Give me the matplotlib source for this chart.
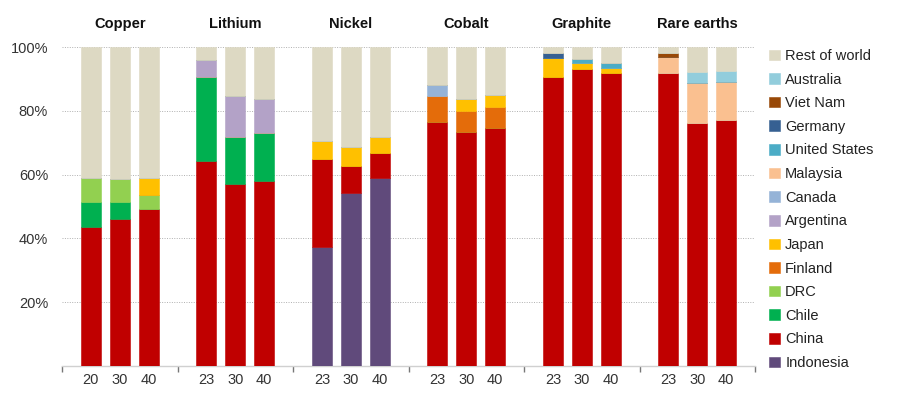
import numpy as np
import matplotlib.pyplot as plt

plt.rcParams['font.family'] = ['Liberation Sans', 'DejaVu Sans']

minerals = ["Copper", "Lithium", "Nickel", "Cobalt", "Graphite", "Rare earths"]
years = ["20", "30", "40", "23", "30", "40", "23", "30", "40",
         "23", "30", "40", "23", "30", "40", "23", "30", "40"]

# share of refining, % (bottom to top stacking order)
indonesia = [0, 0, 0, 0, 0, 0, 37.2, 54.1, 58.9, 0, 0, 0, 0, 0, 0, 0, 0, 0]
china = [43.6, 46.0, 49.1, 64.4, 56.9, 57.9, 27.8, 8.6, 7.8,
         76.4, 73.4, 74.7, 90.6, 93.1, 91.8, 92.0, 76.3, 77.2]
chile = [7.7, 5.5, 0, 26.2, 14.9, 15.1, 0, 0, 0, 0, 0, 0, 0, 0, 0, 0, 0, 0]
drc = [7.5, 7.0, 4.6, 0, 0, 0, 0, 0, 0, 0, 0, 0, 0, 0, 0, 0, 0, 0]
finland = [0, 0, 0, 0, 0, 0, 0, 0, 0, 8.3, 6.5, 6.4, 0, 0, 0, 0, 0, 0]
japan = [0, 0, 5.3, 0, 0, 0, 5.5, 6.1, 5.0, 0, 3.8, 3.7, 6.0, 1.8, 1.7, 0, 0, 0]
argentina = [0, 0, 0, 5.2, 12.8, 10.7, 0, 0, 0, 0, 0, 0, 0, 0, 0, 0, 0, 0]
canada = [0, 0, 0, 0, 0, 0, 0, 0, 0, 3.3, 0, 0, 0, 0, 0, 0, 0, 0]
malaysia = [0, 0, 0, 0, 0, 0, 0, 0, 0, 0, 0, 0, 0, 0, 0, 4.9, 12.3, 11.9]
united_states = [0, 0, 0, 0, 0, 0, 0, 0, 0, 0, 0, 0, 0, 1.2, 1.6, 0, 0, 0]
germany = [0, 0, 0, 0, 0, 0, 0, 0, 0, 0, 0, 0, 1.5, 0, 0, 0, 0, 0]
viet_nam = [0, 0, 0, 0, 0, 0, 0, 0, 0, 0, 0, 0, 0, 0, 0, 1.2, 0, 0]
australia = [0, 0, 0, 0, 0, 0, 0, 0, 0, 0, 0, 0, 0, 0, 0, 0, 3.5, 3.4]
rest_of_world = [41.2, 41.5, 41.0, 4.2, 15.4, 16.3, 29.5, 31.2, 28.3,
                 12.0, 16.3, 15.2, 1.9, 3.9, 4.9, 1.9, 7.9, 7.5]

series = [
    ("Indonesia", indonesia, "#604A7B"),
    ("China", china, "#C00000"),
    ("Chile", chile, "#00B050"),
    ("DRC", drc, "#92D050"),
    ("Finland", finland, "#E46C0A"),
    ("Japan", japan, "#FFC000"),
    ("Argentina", argentina, "#B3A2C7"),
    ("Canada", canada, "#95B3D7"),
    ("Malaysia", malaysia, "#FAC090"),
    ("United States", united_states, "#4BACC6"),
    ("Germany", germany, "#366092"),
    ("Viet Nam", viet_nam, "#984807"),
    ("Australia", australia, "#92CDDC"),
    ("Rest of world", rest_of_world, "#DDD9C3"),
]

fig = plt.figure(figsize=(9, 3.98), dpi=100)
ax = fig.add_axes([0.0689, 0.0804, 0.77, 0.8015])

# 3 bars per group, group width 4 units
x = np.array([g * 4 + 1 + i for g in range(len(minerals)) for i in range(3)], dtype=float)
bottom = np.zeros(len(x))
handles = []
for name, vals, col in series:
    v = np.array(vals)
    b = ax.bar(x, v, bottom=bottom, width=0.69, color=col, edgecolor=col,
               linewidth=0.4, zorder=3, label=name)
    bottom += v
    handles.append(b)

ax.set_xlim(0, 24)
ax.set_ylim(0, 100)
ax.set_yticks([20, 40, 60, 80, 100])
ax.set_yticklabels(["20%", "40%", "60%", "80%", "100%"], fontsize=10.5, color="#333333")
ax.set_xticks(x)
ax.set_xticklabels(years, fontsize=10.5, color="#333333")
ax.tick_params(axis='x', length=0, pad=5)
ax.tick_params(axis='y', length=0, pad=10)
ax.set_xticks(np.arange(0, 25, 4), minor=True)
ax.tick_params(axis='x', which='minor', length=4, direction='out', color="#777777", width=1)

ax.grid(axis='y', linestyle=(0, (1, 1.5)), color="#B0B0B0", linewidth=0.7, zorder=0)
for s in ["top", "right", "left"]:
    ax.spines[s].set_visible(False)
ax.spines["bottom"].set_color("#D0D0D0")
ax.spines["bottom"].set_linewidth(1)

for g, m in enumerate(minerals):
    ax.text(g * 4 + 2, 105, m, ha='center', va='bottom', fontsize=10.5,
            fontweight='bold', color="#111111")

leg = fig.legend(handles[::-1], [s[0] for s in series][::-1], loc='upper left',
                 bbox_to_anchor=(0.840, 0.91), frameon=False, fontsize=10.5,
                 handlelength=0.75, handleheight=0.75, handletextpad=0.35,
                 labelspacing=0.66, labelcolor="#222222")

fig.savefig("out.png", dpi=100)
